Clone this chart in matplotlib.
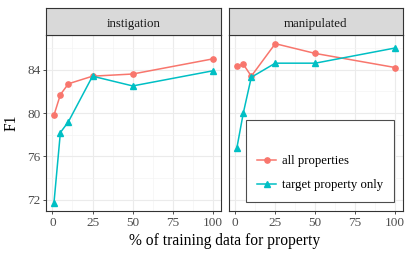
import matplotlib
matplotlib.use("Agg")
import matplotlib.pyplot as plt
from matplotlib.ticker import MultipleLocator

plt.rcParams['font.family'] = ['Liberation Serif', 'DejaVu Serif']

# Data.
pct = [1, 5, 10, 25, 50, 100]
panels = ["instigation", "manipulated"]
all_props = {
    "instigation": [79.8, 81.7, 82.7, 83.4, 83.6, 85.0],
    "manipulated": [84.3, 84.5, 83.4, 86.4, 85.5, 84.2],
}
target_only = {
    "instigation": [71.7, 78.2, 79.2, 83.4, 82.5, 83.9],
    "manipulated": [76.8, 80.0, 83.3, 84.6, 84.6, 86.0],
}
series_names = ["all properties", "target property only"]
red = "#F8766D"
teal = "#00BFC4"

W, H = 412, 257
fig = plt.figure(figsize=(W / 100, H / 100), dpi=100)

lefts = [46, 229]
widths = [175, 174]
top, bottom = 35, 211
strip_top = 8

axes = []
for i, name in enumerate(panels):
    ax = fig.add_axes([lefts[i] / W, (H - bottom) / H, widths[i] / W, (bottom - top) / H])
    sax = fig.add_axes([lefts[i] / W, (H - top) / H, widths[i] / W, (top - strip_top) / H])
    sax.set_facecolor("#d9d9d9")
    sax.set_xticks([])
    sax.set_yticks([])
    for s in sax.spines.values():
        s.set_color("#333333")
        s.set_linewidth(0.8)
    sax.text(0.5, 0.42, name, ha="center", va="center", fontsize=9.3, color="#1a1a1a",
             transform=sax.transAxes)

    ax.plot(pct, all_props[name], color=red, marker="o", markersize=3.8, lw=1.1,
            label=series_names[0])
    ax.plot(pct, target_only[name], color=teal, marker="^", markersize=4.3, lw=1.1,
            label=series_names[1])

    ax.set_xlim(-3.95, 104.95)
    ax.set_ylim(70.96, 87.2)
    ax.set_xticks([0, 25, 50, 75, 100])
    ax.set_yticks([72, 76, 80, 84])
    ax.xaxis.set_minor_locator(MultipleLocator(12.5))
    ax.yaxis.set_minor_locator(MultipleLocator(2))
    ax.grid(which="major", color="#ebebeb", lw=0.8)
    ax.grid(which="minor", color="#f4f4f4", lw=0.5)
    ax.set_axisbelow(True)
    ax.tick_params(which="major", length=2.5, width=0.6, color="#333333",
                   labelsize=9.5, labelcolor="#4d4d4d", pad=1.5)
    ax.tick_params(which="minor", length=0)
    for s in ax.spines.values():
        s.set_color("#333333")
        s.set_linewidth(0.8)
    if i == 1:
        ax.set_yticklabels([])
        ax.tick_params(axis="y", which="major", length=0)
    axes.append(ax)

fig.text(12 / W, 1 - 123 / H, "F1", ha="center", va="center", rotation=90, fontsize=11.2)
fig.text(225 / W, 1 - 241 / H, "% of training data for property", ha="center", va="center",
         fontsize=11.2)

leg = axes[1].legend(loc="lower right", bbox_to_anchor=((394 - 229) / 174, (211 - 202) / 176),
                     frameon=True, fancybox=False, framealpha=1, fontsize=9.2,
                     handlelength=1.5, handletextpad=0.45,
                     labelspacing=0.95, borderpad=0.85, borderaxespad=0,
                     title=" ", title_fontsize=9.5)
leg.get_frame().set_edgecolor("#4d4d4d")
leg.get_frame().set_linewidth(0.8)

fig.savefig("out.png", dpi=100)
